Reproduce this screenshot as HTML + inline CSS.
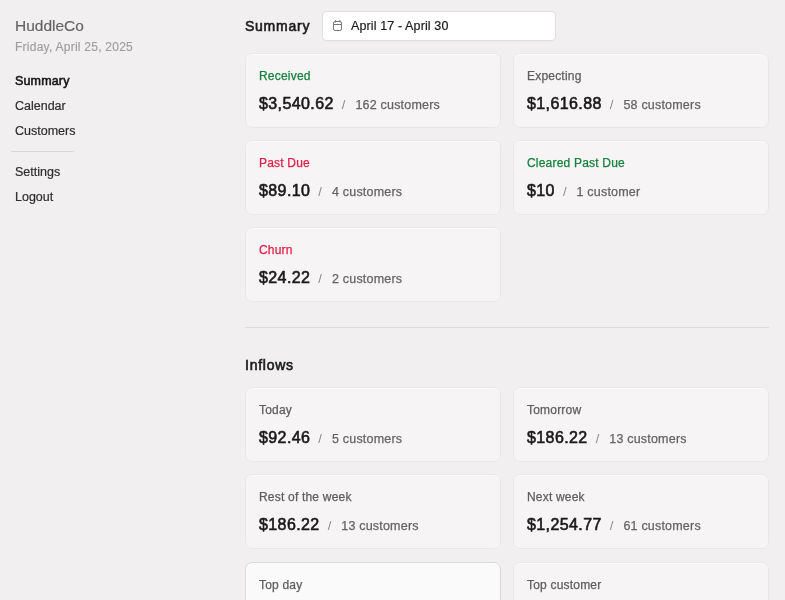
<!DOCTYPE html>
<html>
<head>
<meta charset="utf-8">
<style>
html,body{margin:0;padding:0;}
body{width:785px;height:600px;overflow:hidden;background:#f1eff0;font-family:"Liberation Sans",sans-serif;position:relative;}
.t{position:absolute;white-space:nowrap;line-height:normal;}
.brand{left:15px;top:17px;font-size:15.5px;color:#636363;-webkit-text-stroke:0.15px currentColor;}
.date{left:15px;top:39.6px;font-size:12px;color:#9e9e9e;letter-spacing:0.25px;-webkit-text-stroke:0.15px currentColor;}
.nav{left:15px;font-size:12.5px;color:#2e2e2e;-webkit-text-stroke:0.2px currentColor;}
.nav.b{color:#161616;-webkit-text-stroke:0.55px currentColor;letter-spacing:0.15px;}
.sep{position:absolute;left:11px;top:151px;width:63px;height:1px;background:#d9d7d8;}
.h{left:245px;font-size:14px;color:#1b1b1b;-webkit-text-stroke:0.6px #1b1b1b;letter-spacing:0.75px;}
.datebox{position:absolute;left:322px;top:11px;width:234px;height:30px;box-sizing:border-box;border:1px solid #e0dedf;border-radius:4px;background:#fff;box-shadow:0 1px 0 rgba(0,0,0,0.02);}
.card{position:absolute;width:256px;height:75px;box-sizing:border-box;border:1px solid #e9e7e8;border-radius:7px;background:#f6f4f5;box-shadow:inset 0 1px 0 rgba(255,255,255,0.6);}
.card .l{position:absolute;left:13px;top:15px;font-size:12px;color:#5e5e5e;letter-spacing:0.2px;-webkit-text-stroke:0.25px currentColor;white-space:nowrap;}
.card .v{position:absolute;left:13px;top:41px;white-space:nowrap;}
.amt{font-size:16px;color:#1a1a1a;letter-spacing:0.4px;-webkit-text-stroke:0.6px #1a1a1a;}
.sl{font-size:13px;color:#8a8a8a;margin:0 10px 0 8px;}
.cu{font-size:12.5px;color:#646464;letter-spacing:0.2px;-webkit-text-stroke:0.25px #646464;}
.green{color:#15803d !important;}
.red{color:#e11d48 !important;}
.hsep{position:absolute;left:245px;top:327px;width:524px;height:1px;background:#dcdadb;}
.card.hl{background:#fbfafa;border-color:#d9d7d8;border-radius:7px;}
</style>
</head>
<body>
<div id="w" style="position:absolute;left:0;top:0;width:785px;height:600px;will-change:transform">
<div class="t brand">HuddleCo</div>
<div class="t date">Friday, April 25, 2025</div>
<div class="t nav b" style="top:73.7px">Summary</div>
<div class="t nav" style="top:98.7px">Calendar</div>
<div class="t nav" style="top:123.7px">Customers</div>
<div class="sep"></div>
<div class="t nav" style="top:164.7px">Settings</div>
<div class="t nav" style="top:189.7px">Logout</div>

<div class="t h" style="top:18.1px">Summary</div>
<div class="datebox">
  <svg style="position:absolute;left:7px;top:6px" width="16" height="16" viewBox="0 0 16 16"><rect x="3.5" y="3.5" width="8" height="9" rx="1.6" fill="none" stroke="#777" stroke-width="1"/><line x1="3.5" y1="6.5" x2="11.5" y2="6.5" stroke="#777" stroke-width="1"/><line x1="5.6" y1="2" x2="5.6" y2="4.5" stroke="#777" stroke-width="1"/><line x1="9.9" y1="2" x2="9.9" y2="4.5" stroke="#777" stroke-width="1"/></svg>
  <div class="t" style="left:28px;top:6.5px;font-size:12.5px;color:#1a1a1a;letter-spacing:0.12px;-webkit-text-stroke:0.2px #1a1a1a;">April 17 - April 30</div>
</div>

<div class="card" style="left:245px;top:53px"><div class="l green">Received</div><div class="v"><span class="amt">$3,540.62</span><span class="sl">/</span><span class="cu">162 customers</span></div></div>
<div class="card" style="left:513px;top:53px"><div class="l">Expecting</div><div class="v"><span class="amt">$1,616.88</span><span class="sl">/</span><span class="cu">58 customers</span></div></div>
<div class="card" style="left:245px;top:140px"><div class="l red">Past Due</div><div class="v"><span class="amt">$89.10</span><span class="sl">/</span><span class="cu">4 customers</span></div></div>
<div class="card" style="left:513px;top:140px"><div class="l green">Cleared Past Due</div><div class="v"><span class="amt">$10</span><span class="sl">/</span><span class="cu">1 customer</span></div></div>
<div class="card" style="left:245px;top:227px"><div class="l red">Churn</div><div class="v"><span class="amt">$24.22</span><span class="sl">/</span><span class="cu">2 customers</span></div></div>

<div class="hsep"></div>
<div class="t h" style="top:357.1px">Inflows</div>

<div class="card" style="left:245px;top:387px"><div class="l">Today</div><div class="v"><span class="amt">$92.46</span><span class="sl">/</span><span class="cu">5 customers</span></div></div>
<div class="card" style="left:513px;top:387px"><div class="l">Tomorrow</div><div class="v"><span class="amt">$186.22</span><span class="sl">/</span><span class="cu">13 customers</span></div></div>
<div class="card" style="left:245px;top:474px"><div class="l">Rest of the week</div><div class="v"><span class="amt">$186.22</span><span class="sl">/</span><span class="cu">13 customers</span></div></div>
<div class="card" style="left:513px;top:474px"><div class="l">Next week</div><div class="v"><span class="amt">$1,254.77</span><span class="sl">/</span><span class="cu">61 customers</span></div></div>
<div class="card hl" style="left:245px;top:562px"><div class="l">Top day</div></div>
<div class="card" style="left:513px;top:562px"><div class="l">Top customer</div></div>
</div>
</body>
</html>
